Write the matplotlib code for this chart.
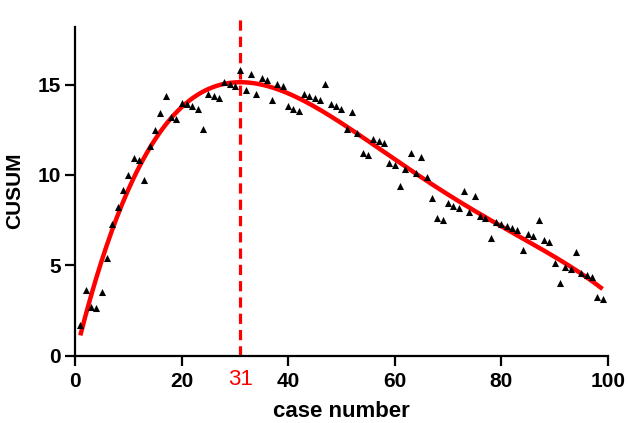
import numpy as np
import matplotlib
matplotlib.use("Agg")
import matplotlib.pyplot as plt
import matplotlib.transforms as mtransforms

plt.rcParams['font.family'] = ['Liberation Sans', 'DejaVu Sans']

case_number = list(range(1, 100))
cusum = [1.70, 3.63, 2.71, 2.62, 3.52, 5.41, 7.31, 8.23, 9.15, 10.02,
         10.94, 10.83, 9.71, 11.62, 12.51, 13.43, 14.35, 13.20, 13.12, 13.98,
         13.90, 13.80, 13.67, 12.56, 14.46, 14.37, 14.25, 15.14, 15.01, 14.92,
         15.78, 14.70, 15.56, 14.46, 15.38, 15.23, 14.13, 15.01, 14.92, 13.80,
         13.67, 13.54, 14.46, 14.37, 14.25, 14.14, 15.05, 13.90, 13.81, 13.67,
         12.52, 13.48, 12.32, 11.24, 11.09, 12.01, 11.88, 11.77, 10.66, 10.54,
         9.41, 10.30, 11.22, 10.08, 11.00, 9.86, 8.75, 7.61, 7.49, 8.42,
         8.30, 8.18, 9.10, 7.96, 8.86, 7.72, 7.63, 6.49, 7.40, 7.28,
         7.17, 7.04, 6.93, 5.84, 6.71, 6.62, 7.53, 6.39, 6.28, 5.14,
         4.03, 4.92, 4.82, 5.71, 4.59, 4.48, 4.37, 3.26, 3.13]
change_point = 31
x_ticks = [0, 20, 40, 60, 80, 100]
y_ticks = [0, 5, 10, 15]

fig = plt.figure(figsize=(6.28, 4.23), dpi=100)
ax = fig.add_axes([0.1194, 0.159, 0.8486, 0.778])

x = np.array(case_number, dtype=float)
y = np.array(cusum, dtype=float)
coef = np.polyfit(x, y, 4)
xf = np.linspace(1, 99, 300)
ax.plot(xf, np.polyval(coef, xf), color='#ff0000', lw=3.2, zorder=2, solid_capstyle='butt')
ax.scatter(x, y, marker='^', s=26, color='black', zorder=3, linewidths=0)

ax.plot([change_point, change_point], [0, 18.9], color='#ff0000', lw=2.3,
        ls=(0, (3.2, 1.9)), clip_on=False, zorder=1)

ax.set_xlim(0, 100)
ax.set_ylim(0, 18.2)
ax.set_xticks(x_ticks)
ax.set_yticks(y_ticks)
ax.set_xticklabels([str(t) for t in x_ticks], fontsize=15, fontweight='bold')
ax.set_yticklabels([str(t) for t in y_ticks], fontsize=15, fontweight='bold')
ax.tick_params(axis='x', direction='out', length=7, width=1.6, pad=5)
ax.tick_params(axis='y', direction='out', length=7, width=1.6, pad=3)

trans = mtransforms.blended_transform_factory(ax.transData, ax.transAxes)
ax.text(change_point, -0.04, str(change_point), transform=trans, ha='center', va='top',
        color='#ff0000', fontsize=16)

for s in ['top', 'right']:
    ax.spines[s].set_visible(False)
for s in ['left', 'bottom']:
    ax.spines[s].set_linewidth(1.6)

ax.set_xlabel('case number', fontsize=16, fontweight='bold', labelpad=7)
ax.set_ylabel('CUSUM', fontsize=15, fontweight='bold', labelpad=10)

fig.savefig('out.png', dpi=100)
